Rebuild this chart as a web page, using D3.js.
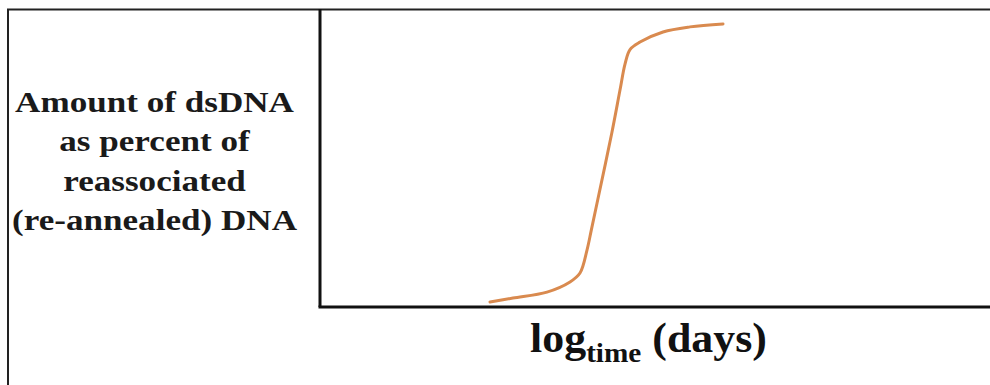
<!DOCTYPE html>
<html><head><meta charset="utf-8">
<script src="https://cdn.jsdelivr.net/npm/d3@7"></script>
<style>html,body{margin:0;padding:0;background:#fff;}svg{display:block;}</style>
</head><body>
<svg id="chart" width="990" height="385"></svg>
<script>
// Data (log time, arbitrary units) vs percent reassociated dsDNA
const logTime = [17, 19.3, 22.7, 25, 26, 26.7, 27.13, 27.77, 29.18, 30.0, 30.5, 31.0, 32, 34.3, 37, 40.3];
const percentDsDNA = [1.7, 3.0, 5.0, 8.4, 11.4, 19.1, 25.8, 35.9, 58.4, 72.8, 81.5, 86.4, 88.9, 92.3, 94.0, 95.0];
const yLabelLines = ["Amount of dsDNA", "as percent of", "reassociated", "(re-annealed) DNA"];
const xLabelMain = "log", xLabelSub = "time", xLabelRest = " (days)";

const svg = d3.select("#chart");
const plotLeft = 320, plotRight = 990, plotTop = 9, plotBottom = 307;
const x = d3.scaleLinear().domain([0, 67]).range([plotLeft, plotRight]);
const y = d3.scaleLinear().domain([0, 100]).range([plotBottom, plotTop]);

// outer frame
svg.append("rect").attr("x", 8).attr("y", 9.5).attr("width", 1100).attr("height", 500)
  .attr("fill", "none").attr("stroke", "#222").attr("stroke-width", 2);

// axes
svg.append("line").attr("x1", plotLeft).attr("x2", plotLeft).attr("y1", plotTop).attr("y2", plotBottom)
  .attr("stroke", "#111").attr("stroke-width", 3);
svg.append("line").attr("x1", plotLeft - 1.5).attr("x2", plotRight).attr("y1", plotBottom).attr("y2", plotBottom)
  .attr("stroke", "#111").attr("stroke-width", 3);

// curve
const data = logTime.map((t, i) => ({t, p: percentDsDNA[i]}));
svg.append("path").datum(data)
  .attr("d", d3.line().x(d => x(d.t)).y(d => y(d.p)).curve(d3.curveCatmullRom.alpha(0.5)))
  .attr("fill", "none").attr("stroke", "#d98a4f").attr("stroke-width", 3).attr("stroke-linecap", "round");

const serif = "Liberation Serif, Times New Roman, serif";

// y label (stretched horizontally to match reference proportions)
const ylg = svg.append("g");
const yl = ylg.append("text").attr("text-anchor", "middle")
  .attr("font-family", serif).attr("font-weight", "bold")
  .attr("font-size", 28.5).attr("fill", "#1a1a1a");
const ts = [];
yLabelLines.forEach((s, i) => {
  ts.push(yl.append("tspan").attr("x", 0).attr("y", 112 + i * 39.5).text(s));
});
const maxW = d3.max(ts, t => t.node().getComputedTextLength());
const sx = 285 / maxW;
ylg.attr("transform", `translate(154.5,0) scale(${sx},1)`);

// x label
const xlg = svg.append("g");
const xl = xlg.append("text").attr("x", 0).attr("y", 352).attr("text-anchor", "middle")
  .attr("font-family", serif).attr("font-weight", "bold")
  .attr("font-size", 42).attr("fill", "#111");
xl.append("tspan").text(xLabelMain);
xl.append("tspan").attr("font-size", 28).attr("dy", 10).text(xLabelSub);
xl.append("tspan").attr("dy", -10).text(xLabelRest);
const xw = xl.node().getComputedTextLength();
xlg.attr("transform", `translate(648.5,0) scale(${237 / xw},1)`);
</script>
</body></html>
